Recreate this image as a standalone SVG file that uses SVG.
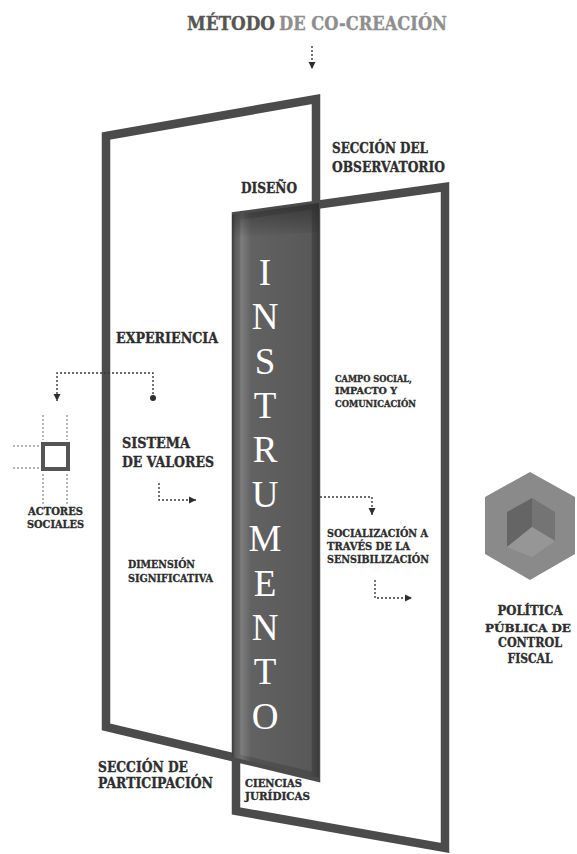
<svg xmlns="http://www.w3.org/2000/svg" width="577" height="854" viewBox="0 0 577 854">
<style>
.frame{fill:none;stroke:#4b4b4b;stroke-width:8.5;stroke-linejoin:miter}
.lbl{font-family:"DejaVu Serif","Liberation Serif",serif;font-weight:bold;fill:#2e2e2e;stroke:#2e2e2e;stroke-width:0.35}
.ctr{text-anchor:middle}
.dot{fill:none;stroke:#3a3a3a;stroke-width:1.4;stroke-dasharray:2 2}
.ldot{fill:none;stroke:#9a9a9a;stroke-width:1.4;stroke-dasharray:2 2}
.big{font-family:"Liberation Serif","DejaVu Serif",serif;font-size:37px;fill:#ffffff;text-anchor:middle}
</style>
<defs>
<marker id="ah" markerWidth="8" markerHeight="8" refX="7" refY="4" orient="auto" markerUnits="userSpaceOnUse">
<path d="M0,0.5 L7,4 L0,7.5 z" fill="#2e2e2e"/>
</marker>
<linearGradient id="colg" x1="0" y1="0" x2="1" y2="0">
<stop offset="0" stop-color="#3c3c3c"/>
<stop offset="0.04" stop-color="#5f5f5f"/>
<stop offset="0.11" stop-color="#727272"/>
<stop offset="0.22" stop-color="#545454"/>
<stop offset="0.9" stop-color="#4a4a4a"/>
<stop offset="1" stop-color="#3a3a3a"/>
</linearGradient>
<linearGradient id="topsh" x1="0" y1="0" x2="0" y2="1">
<stop offset="0" stop-color="#2a2a2a" stop-opacity="0.7"/>
<stop offset="1" stop-color="#2a2a2a" stop-opacity="0"/>
</linearGradient>
</defs>

<g id="title">
<text class="lbl" x="187" y="30" font-size="19" textLength="88" lengthAdjust="spacingAndGlyphs" style="fill:#555;stroke:#555">MÉTODO</text>
<text class="lbl" x="279" y="30" font-size="19" textLength="168" lengthAdjust="spacingAndGlyphs" style="fill:#8e8e8e;stroke:#8e8e8e">DE CO-CREACIÓN</text>
</g>

<g id="left-frame">
<polygon class="frame" points="106,136 316,99 316,777 106,727"/>
</g>
<g id="right-frame">
<polygon class="frame" points="236,216 445,187 445,848 236,811"/>
</g>

<g id="instrumento">
<polygon points="232,215 319,203 319,778 232,757" fill="url(#colg)" opacity="0.92"/>
<polygon points="232,215 319,203 319,232 232,238" fill="url(#topsh)"/>
<text class="big" x="265" y="285">I</text>
<text class="big" x="265" y="329">N</text>
<text class="big" x="265" y="374">S</text>
<text class="big" x="265" y="418">T</text>
<text class="big" x="265" y="462">R</text>
<text class="big" x="265" y="507">U</text>
<text class="big" x="265" y="551">M</text>
<text class="big" x="265" y="596">E</text>
<text class="big" x="265" y="640">N</text>
<text class="big" x="265" y="684">T</text>
<text class="big" x="265" y="729">O</text>
</g>

<g id="connectors">
<path class="dot" d="M312,46 V69" marker-end="url(#ah)"/>
<path class="dot" d="M153,398 V373 H57 V401" marker-end="url(#ah)"/>
<circle cx="153" cy="398" r="3" fill="#2e2e2e"/>
<path class="dot" d="M159,483 V500 H196" marker-end="url(#ah)"/>
<path class="dot" d="M320,497 H372 V515" marker-end="url(#ah)"/>
<path class="dot" d="M375,580 V598 H412" marker-end="url(#ah)"/>
</g>

<g id="actores">
<rect x="43" y="444" width="25" height="25" fill="none" stroke="#555" stroke-width="4"/>
<path class="ldot" d="M43,415 V440 M67,415 V440 M43,474 V505 M67,474 V505 M13,446 H39 M13,468 H39"/>
<text class="lbl" x="28" y="515" font-size="11" textLength="55" lengthAdjust="spacingAndGlyphs">ACTORES</text>
<text class="lbl" x="27" y="528" font-size="11" textLength="57" lengthAdjust="spacingAndGlyphs">SOCIALES</text>
</g>

<g id="labels">
<text class="lbl" x="332" y="153" font-size="14.5" textLength="96" lengthAdjust="spacingAndGlyphs">SECCIÓN DEL</text>
<text class="lbl" x="332" y="172" font-size="14.5" textLength="113" lengthAdjust="spacingAndGlyphs">OBSERVATORIO</text>
<text class="lbl" x="241" y="193" font-size="14" textLength="56" lengthAdjust="spacingAndGlyphs">DISEÑO</text>
<text class="lbl" x="116" y="343" font-size="14.5" textLength="102" lengthAdjust="spacingAndGlyphs">EXPERIENCIA</text>
<text class="lbl" x="122" y="448" font-size="14.5" textLength="68" lengthAdjust="spacingAndGlyphs">SISTEMA</text>
<text class="lbl" x="122" y="467" font-size="14.5" textLength="92" lengthAdjust="spacingAndGlyphs">DE VALORES</text>
<text class="lbl" x="128" y="568" font-size="11.5" textLength="67" lengthAdjust="spacingAndGlyphs">DIMENSIÓN</text>
<text class="lbl" x="128" y="582" font-size="11.5" textLength="85" lengthAdjust="spacingAndGlyphs">SIGNIFICATIVA</text>
<text class="lbl" x="335" y="382" font-size="9.5" textLength="77" lengthAdjust="spacingAndGlyphs">CAMPO SOCIAL,</text>
<text class="lbl" x="335" y="394" font-size="9.5" textLength="62" lengthAdjust="spacingAndGlyphs">IMPACTO Y</text>
<text class="lbl" x="335" y="407" font-size="9.5" textLength="81" lengthAdjust="spacingAndGlyphs">COMUNICACIÓN</text>
<text class="lbl" x="327" y="537" font-size="11.5" textLength="101" lengthAdjust="spacingAndGlyphs">SOCIALIZACIÓN A</text>
<text class="lbl" x="327" y="550" font-size="11.5" textLength="83" lengthAdjust="spacingAndGlyphs">TRAVÉS DE LA</text>
<text class="lbl" x="327" y="563" font-size="11.5" textLength="102" lengthAdjust="spacingAndGlyphs">SENSIBILIZACIÓN</text>
<text class="lbl" x="98" y="772" font-size="14.5" textLength="90" lengthAdjust="spacingAndGlyphs">SECCIÓN DE</text>
<text class="lbl" x="98" y="788" font-size="14.5" textLength="115" lengthAdjust="spacingAndGlyphs">PARTICIPACIÓN</text>
<text class="lbl" x="245" y="787" font-size="10.5" textLength="57" lengthAdjust="spacingAndGlyphs">CIENCIAS</text>
<text class="lbl" x="245" y="800" font-size="10.5" textLength="65" lengthAdjust="spacingAndGlyphs">JURÍDICAS</text>
</g>

<g id="politica">
<polygon points="530,472 575,497 575,554 530,580 485,554 485,497" fill="#8a8a8a"/>
<polygon points="507,512 532,498 532,527 507,547" fill="#656565"/>
<polygon points="532,498 555,512 555,541 532,527" fill="#747474"/>
<polygon points="507,547 532,527 555,541 532,557" fill="#969696"/>
<text class="lbl ctr" x="530" y="615" font-size="13" textLength="65" lengthAdjust="spacingAndGlyphs">POLÍTICA</text>
<text class="lbl ctr" x="528" y="632" font-size="11.5" textLength="86" lengthAdjust="spacingAndGlyphs">PÚBLICA DE</text>
<text class="lbl ctr" x="530" y="647" font-size="13" textLength="64" lengthAdjust="spacingAndGlyphs">CONTROL</text>
<text class="lbl ctr" x="530" y="663" font-size="13" textLength="45" lengthAdjust="spacingAndGlyphs">FISCAL</text>
</g>
</svg>
